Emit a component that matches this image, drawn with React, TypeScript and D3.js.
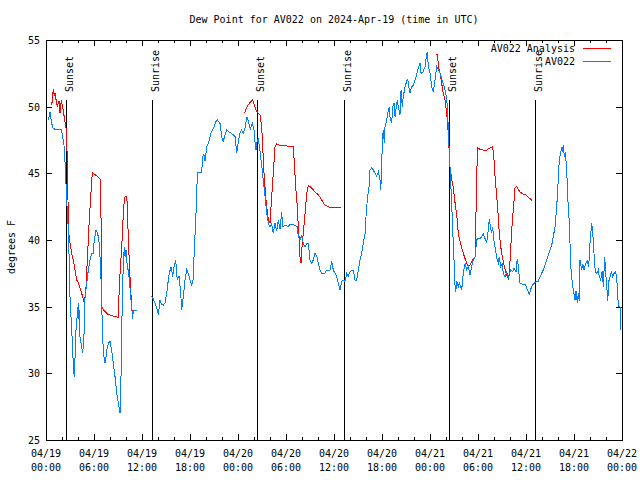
import React from "react";
import * as d3 from "d3";

// hours since 04/19 00:00 UTC
const obsHours = [
  0.29, 0.5, 0.71, 0.88, 1.13, 1.91, 2.04, 2.25, 2.41, 2.59, 2.79, 2.91, 3.0, 3.21, 3.34, 3.41, 3.54, 3.63, 3.75,
  4.04, 4.13, 4.16, 4.25, 4.46, 4.59, 4.79, 4.88, 5.09, 5.29, 5.5, 5.71, 5.88, 6.04, 6.25, 6.38, 6.54, 6.69, 6.75,
  6.88, 7.09, 7.25, 7.38, 7.5, 7.59, 7.79, 8.0, 8.21, 8.41, 8.63, 8.84, 9.04, 9.25, 9.34, 9.46, 9.66, 9.79, 9.88,
  10.0, 10.16, 10.29, 10.41, 10.59, 10.71, 10.84, 10.91, 11.41, 12.2,
  13.13, 13.41, 13.63, 13.91, 14.04, 14.25, 14.44, 14.66, 14.88, 15.09, 15.29, 15.41, 15.63, 15.84, 16.0, 16.21,
  16.41, 16.63, 16.84, 16.96, 17.16, 17.38, 17.59, 17.79, 18.0, 18.21, 18.38, 18.54, 18.66, 18.84, 18.91, 19.46,
  19.59, 19.75, 19.88, 20.09, 20.25, 20.41, 20.59, 20.84, 21.0, 21.25, 21.41, 21.75, 21.96, 22.16, 22.38, 22.59,
  22.91, 23.41, 23.63, 23.84, 24.04, 24.25, 24.46, 24.66, 24.91, 25.09, 25.31, 25.54, 25.79, 26.0, 26.16, 26.25,
  26.41, 26.54, 26.75, 26.96, 27.16, 27.38, 27.59, 27.79, 28.0, 28.21, 28.41, 28.63, 28.84, 29.04, 29.25, 29.46,
  29.59, 29.88, 30.29, 30.5, 31.13, 31.38, 31.54, 31.75, 31.96, 32.16, 32.38, 32.59, 32.79, 33.0, 33.21, 33.41,
  33.63, 33.84, 34.04, 34.25, 34.46, 34.88, 35.09, 35.5, 35.71, 35.91, 36.13, 36.34, 36.54, 36.75, 36.96, 37.16,
  37.38, 37.59, 37.79, 38.0, 38.21, 38.41, 38.63, 38.84, 39.04, 39.25, 39.46, 39.66, 39.88, 40.0, 40.16, 40.38,
  40.5, 40.71, 40.91, 41.13, 41.34, 41.54, 41.75, 41.84, 41.96, 42.04, 42.16, 42.29, 42.38, 42.59, 42.79, 42.91,
  43.0, 43.21, 43.34, 43.5, 43.63, 43.84, 43.91, 44.04, 44.25, 44.38, 44.54, 44.66, 44.88, 45.09, 45.21, 45.38,
  45.5, 45.71, 45.91, 46.13, 46.34, 46.54, 46.75, 46.88, 47.13, 47.38, 47.5, 47.66, 47.79, 48.0, 48.21, 48.41,
  48.63, 48.84, 49.04, 49.25, 49.46, 49.66, 49.88, 50.09, 50.21, 50.34, 50.5, 50.71, 50.84, 51.0, 51.13, 51.21,
  51.34, 51.54, 51.66, 51.84, 51.96, 52.16, 52.38, 52.59, 52.79, 53.0, 53.21, 53.41, 53.63, 53.84, 53.96, 54.25,
  54.46, 54.66, 54.88, 55.09, 55.29, 55.41, 55.59, 55.71, 55.84, 55.91, 56.04, 56.25, 56.41, 56.54, 56.66, 56.84,
  57.04, 57.16, 57.38, 57.59, 57.79, 57.91, 58.09, 58.34, 58.5, 58.75, 58.91, 59.04, 59.25, 59.5, 59.88, 60.09,
  60.29, 60.41, 60.59, 60.79, 61.0, 61.34, 61.54, 61.75, 61.96, 62.16, 62.38, 62.59, 62.79, 63.0, 63.21, 63.41,
  63.63, 63.84, 64.04, 64.16, 64.34, 64.5, 64.59, 64.66, 64.79, 64.91, 65.09, 65.21, 65.38, 65.5, 65.63, 65.79,
  65.91, 66.13, 66.25, 66.41, 66.54, 66.66, 66.75, 66.96, 67.09, 67.25, 67.46, 67.66, 67.84, 68.0, 68.21, 68.34,
  68.5, 68.66, 68.84, 69.04, 69.16, 69.34, 69.54, 69.66, 69.84, 69.96, 70.09, 70.21, 70.38, 70.5, 70.66, 70.84,
  71.0, 71.16, 71.34, 71.46, 71.59, 71.75, 71.84,
];
const obsDewpoint: (number | null)[] = [
  49.0, 49.6, 48.75, 48.4, 48.3, 48.3, 47.9, 47.1, 45.5, 43.0, 40.75, 38.3, 35.75, 33.25, 31.9, 30.5, 29.75, 31.25, 33.25,
  35.25, 34.0, 34.75, 32.75, 32.0, 31.5, 33.25, 35.75, 36.75, 37.75, 38.5, 39.0, 39.0, 40.0, 40.75, 40.6, 40.25, 39.5, 38.75,
  37.0, 32.5, 31.25, 30.75, 31.2, 31.75, 32.25, 32.4, 31.75, 30.75, 29.75, 28.5, 27.75, 27.0, 28.25, 33.25, 38.25, 39.5, 38.75,
  39.25, 38.0, 37.7, 37.0, 35.75, 35.0, 34.1, 34.7, 34.7, null,
  35.8, 35.6, 35.25, 34.75, 34.4, 35.5, 35.2, 35.1, 35.3, 36.0, 37.0, 37.5, 38.0, 37.25, 38.0, 38.5,
  37.0, 37.3, 36.0, 34.75, 35.75, 37.0, 37.75, 37.5, 37.0, 36.6, 37.0, 39.25, 40.75, 43.25, 45.1, 45.1,
  46.25, 46.4, 45.9, 47.0, 47.2, 47.5, 48.0, 48.25, 48.5, 48.9, 49.0, 48.75, 47.75, 47.4, 47.9, 48.25,
  48.1, 47.9, 47.75, 46.5, 47.4, 48.0, 48.25, 48.0, 48.5, 49.25, 48.9, 48.3, 48.75, 48.25, 47.1, 46.75,
  47.5, 47.6, 46.7, 45.6, 44.5, 43.25, 42.0, 41.25, 41.0, 41.2, 40.5, 41.25, 40.7, 41.5, 40.8, 42.1,
  41.0, 41.1, 41.0, 41.2, 41.1, 41.0, 40.25, 40.0, 40.3, 39.75, 39.5, 39.75, 39.75, 38.5, 38.25, 38.5,
  39.0, 38.8, 38.25, 37.75, 37.5, 37.5, 37.75, 37.75, 38.4, 37.75, 37.5, 37.25, 36.75, 36.25, 36.9, 37.0,
  36.9, 37.5, 37.3, 37.6, 37.75, 37.75, 37.0, 37.0, 37.75, 38.5, 39.0, 39.75, 40.5, 41.75, 43.0, 44.0,
  45.25, 45.4, 45.25, 45.0, 44.8, 45.1, 44.5, 43.75, 45.25, 47.5, 48.25, 47.25, 48.5, 49.0, 49.75, 50.0,
  49.25, 48.75, 50.0, 50.25, 49.25, 50.25, 50.5, 50.0, 49.4, 51.25, 50.0, 50.75, 51.5, 51.9, 52.1, 51.4,
  51.0, 51.5, 51.6, 52.0, 52.4, 52.9, 53.25, 52.5, 52.6, 53.0, 53.6, 54.1, 53.0, 52.5, 51.5, 51.1,
  52.0, 53.0, 52.75, 52.5, 52.1, 51.75, 51.25, 50.6, 49.5, 47.5, 45.5, 42.75, 40.75, 38.5, 36.6, 36.1,
  36.9, 36.5, 36.8, 36.5, 36.25, 37.5, 38.25, 37.75, 38.0, 37.4, 38.0, 38.5, 38.75, 40.0, 40.1, 40.1,
  40.25, 40.45, 40.1, 39.8, 40.75, 41.55, 40.9, 40.5, 41.0, 40.4, 39.75, 39.0, 38.5, 38.3, 38.75, 38.0,
  38.2, 37.5, 37.25, 37.6, 37.1, 37.5, 37.75, 37.6, 37.9, 37.6, 38.6, 38.0, 36.75, 36.7, 36.7, 36.4,
  36.1, 35.95, 36.3, 36.6, 36.75, 36.9, 36.9, 37.25, 37.5, 37.75, 38.1, 38.5, 38.9, 39.25, 39.6, 40.25,
  41.0, 42.5, 44.6, 46.0, 46.6, 47.0, 46.6, 47.1, 46.25, 46.6, 45.25, 43.25, 41.6, 39.75, 37.75, 36.75,
  36.25, 35.5, 36.2, 35.3, 36.0, 35.4, 38.5, 37.75, 38.2, 37.75, 38.25, 38.4, 38.0, 39.75, 41.25, 40.6,
  39.0, 37.6, 37.5, 37.75, 37.25, 37.0, 37.7, 36.5, 38.75, 37.5, 36.6, 35.4, 37.0, 37.25, 37.6, 37.25,
  37.5, 37.6, 37.25, 35.75, 35.0, 35.0, 33.25,
];

const anaHours = [
  0.66, 0.79, 0.91, 1.04, 1.13, 1.29, 1.41, 1.63, 1.75, 1.91, 2.13, 2.34, 2.5, 2.66, 2.75, 2.79, 3.0, 3.21, 3.41,
  3.63, 3.84, 4.04, 4.25, 4.46, 4.66, 4.79, 5.0, 5.29, 5.41, 5.59, 5.79, 6.25, 6.75, 6.84, 6.96, 6.99, 7.16, 7.79,
  9.04, 9.16, 9.46, 9.59, 9.66, 9.88, 10.09, 10.19, 10.29, 10.5, 10.71, 10.84, 10.91, 11.06, 12.0,
  24.79, 25.0, 25.25, 25.5, 25.81, 26.0, 26.25, 26.54, 26.75, 26.96, 27.09, 27.25, 27.5, 27.79, 28.0, 28.21,
  28.41, 28.63, 28.84, 29.25, 30.91, 31.04, 31.21, 31.41, 31.54, 31.66, 31.75, 31.88, 32.0, 32.16, 32.38, 32.59,
  32.79, 33.21, 33.63, 34.04, 34.46, 34.88, 35.5, 36.88, 42.0,
  48.71, 48.96, 49.04, 49.25, 49.46, 49.66, 49.88, 50.09, 50.29, 50.38, 50.5, 50.71, 50.91, 51.13, 51.34, 51.54,
  51.75, 51.96, 52.16, 52.38, 52.59, 52.79, 53.0, 53.21, 53.41, 53.63, 53.71, 53.84, 53.96, 54.25, 54.66, 55.09,
  55.5, 55.84, 56.0, 56.13, 56.34, 56.54, 56.66, 56.84, 57.04, 57.25, 57.46, 57.66, 57.84, 58.04, 58.21, 58.41,
  58.63, 58.84, 59.04, 59.25, 59.66, 59.94, 60.16, 60.5, 60.79,
];
const anaDewpoint: (number | null)[] = [
  50.1, 50.4, 51.35, 50.8, 51.0, 50.4, 50.0, 50.4, 49.5, 50.5, 49.8, 49.0, 48.4, 46.25, 43.0, 40.75, 39.8, 39.0, 38.5,
  37.75, 37.0, 36.8, 36.4, 36.0, 35.6, 35.2, 36.5, 40.0, 41.5, 43.25, 45.05, 44.85, 44.6, 42.0, 40.75, 35.0, 34.75, 34.4,
  34.2, 36.5, 39.5, 40.75, 42.25, 43.25, 43.25, 42.25, 40.0, 37.25, 35.0, 34.25, 34.6, 34.6, null,
  49.5, 49.8, 50.1, 50.3, 50.5, 50.2, 49.75, 49.5, 49.4, 48.5, 47.0, 45.0, 43.0, 41.5, 41.25, 43.25,
  45.0, 47.0, 47.2, 47.1, 47.0, 45.75, 44.0, 42.5, 41.0, 40.0, 38.75, 38.25, 39.5, 40.5, 42.0, 43.5,
  44.1, 43.9, 43.6, 43.4, 43.0, 42.6, 42.45, 42.4, null,
  53.9, 53.9, 53.0, 52.5, 51.75, 51.0, 50.5, 49.5, 48.0, 46.9, 45.5, 44.6, 43.9, 42.8, 41.9, 40.5,
  39.9, 39.4, 39.0, 38.6, 38.25, 38.0, 38.1, 38.4, 38.6, 38.75, 40.75, 45.0, 46.9, 46.8, 46.75, 46.75,
  46.9, 47.0, 46.0, 44.75, 43.25, 41.75, 40.5, 39.5, 38.75, 38.1, 37.6, 37.25, 37.0, 38.75, 40.75, 42.25,
  43.9, 44.0, 43.8, 43.6, 43.45, 43.45, 43.25, 43.1, 42.95,
];

const sunHours = [2.54, 13.31, 26.41, 37.29, 50.41, 61.16];
const sunLabels = ["Sunset", "Sunrise", "Sunset", "Sunrise", "Sunset", "Sunrise"];
const sunLineTop = 50.5;

const xTickDates = ["04/19", "04/19", "04/19", "04/19", "04/20", "04/20", "04/20", "04/20", "04/21", "04/21", "04/21", "04/21", "04/22"];
const xTickTimes = ["00:00", "06:00", "12:00", "18:00", "00:00", "06:00", "12:00", "18:00", "00:00", "06:00", "12:00", "18:00", "00:00"];
const yTicks = [25, 30, 35, 40, 45, 50, 55];

const titleText = "Dew Point for AV022 on 2024-Apr-19 (time in UTC)";
const yLabel = "degrees F";
const seriesNames = ["AV022 Analysis", "AV022"];
const seriesColors = ["#ff0000", "#0080ff"];

export default function App() {
  const W = 640, H = 480;
  const L = 46, R = 622, T = 40, B = 440;
  const x = d3.scaleLinear().domain([0, 72]).range([L, R]);
  const y = d3.scaleLinear().domain([25, 55]).range([B, T]);
  const font = "'DejaVu Sans Mono', monospace";

  const line = d3
    .line<[number, number | null]>()
    .defined((d) => d[1] !== null)
    .x((d) => x(d[0]))
    .y((d) => y(d[1] as number));

  const obs = obsHours.map((h, i) => [h, obsDewpoint[i]] as [number, number | null]);
  const ana = anaHours.map((h, i) => [h, anaDewpoint[i]] as [number, number | null]);

  const minorHours = d3.range(0, 73, 2);
  const majorHours = d3.range(0, 73, 6);

  return (
    <svg width={W} height={H} style={{ position: "absolute", left: 0, top: 0, background: "#fff" }} fontFamily={font} fontSize={10}>
      <rect x={0} y={0} width={W} height={H} fill="#fff" />
      <text x={(L + R) / 2} y={23} textAnchor="middle">{titleText}</text>
      <text transform={`translate(15,247) rotate(-90)`} textAnchor="middle">{yLabel}</text>

      {/* ticks */}
      <g stroke="#000" strokeWidth={1} shapeRendering="crispEdges">
        {yTicks.map((v) => (
          <g key={"y" + v}>
            <line x1={L} x2={L + 6} y1={Math.round(y(v)) + 0.5} y2={Math.round(y(v)) + 0.5} />
            <line x1={R - 6} x2={R} y1={Math.round(y(v)) + 0.5} y2={Math.round(y(v)) + 0.5} />
          </g>
        ))}
        {minorHours.map((h) => {
          const len = h % 6 === 0 ? 6 : 3;
          const xx = Math.round(x(h)) + 0.5;
          return (
            <g key={"x" + h}>
              <line x1={xx} x2={xx} y1={B} y2={B - len} />
              <line x1={xx} x2={xx} y1={T} y2={T + len} />
            </g>
          );
        })}
      </g>

      {yTicks.map((v) => (
        <text key={"yl" + v} x={L - 6} y={y(v) + 4} textAnchor="end">{v}</text>
      ))}
      {majorHours.map((h, i) => (
        <g key={"xl" + h}>
          <text x={x(h)} y={457} textAnchor="middle">{xTickDates[i]}</text>
          <text x={x(h)} y={471} textAnchor="middle">{xTickTimes[i]}</text>
        </g>
      ))}

      {/* sunrise / sunset markers */}
      {sunHours.map((h, i) => {
        const xx = Math.round(x(h)) + 0.5;
        return (
          <g key={"sun" + i}>
            <line x1={xx} x2={xx} y1={y(sunLineTop)} y2={B} stroke="#000" strokeWidth={1} shapeRendering="crispEdges" />
            <text transform={`translate(${xx + 6},92) rotate(-90)`} textAnchor="start">{sunLabels[i]}</text>
          </g>
        );
      })}

      {/* data */}
      <path d={line(ana) || ""} fill="none" stroke={seriesColors[0]} strokeWidth={1} shapeRendering="crispEdges" />
      <path d={line(obs) || ""} fill="none" stroke={seriesColors[1]} strokeWidth={1} shapeRendering="crispEdges" />

      {/* legend */}
      {seriesNames.map((n, i) => (
        <g key={"lg" + i}>
          <text x={575} y={52 + i * 13} textAnchor="end">{n}</text>
          <line x1={583} x2={611} y1={48.5 + i * 13} y2={48.5 + i * 13} stroke={seriesColors[i]} strokeWidth={1} shapeRendering="crispEdges" />
        </g>
      ))}

      <rect x={L + 0.5} y={T + 0.5} width={R - L} height={B - T} fill="none" stroke="#000" strokeWidth={1} shapeRendering="crispEdges" />
    </svg>
  );
}
